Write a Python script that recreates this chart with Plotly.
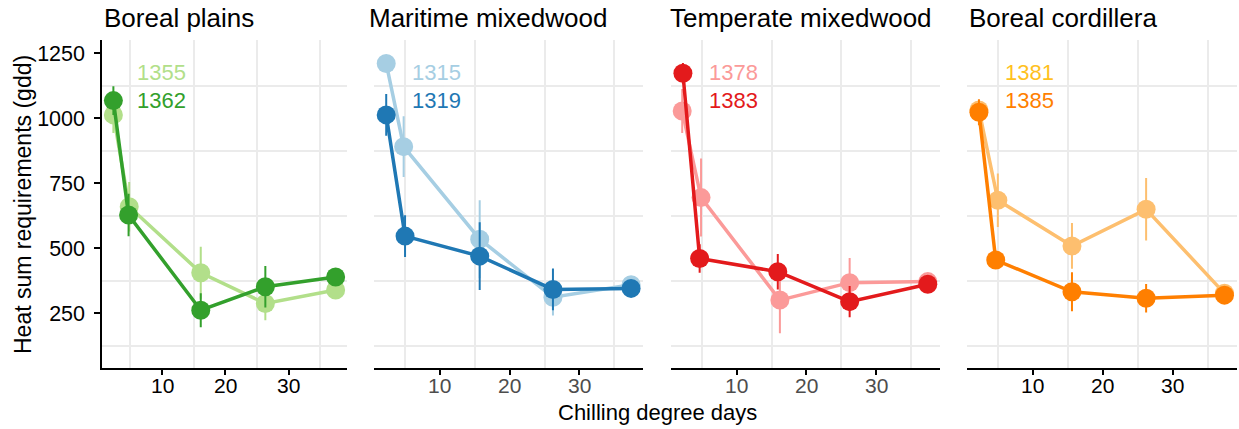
import plotly.graph_objects as go

W, H = 1239, 429

panels = ["Boreal plains", "Maritime mixedwood", "Temperate mixedwood", "Boreal cordillera"]

# light series (first label) and dark series (second label) per panel
labels_light = ["1355", "1315", "1378", "1381"]
labels_dark = ["1362", "1319", "1383", "1385"]

x_light = [
    [2.3, 4.8, 16.1, 26.3, 37.4],
    [2.3, 4.8, 15.7, 26.2, 37.4],
    [2.2, 4.9, 16.2, 26.2, 37.4],
    [2.3, 5.0, 15.6, 26.2, 37.4],
]
y_light = [
    [1013, 660, 406, 288, 340],
    [1211, 891, 535, 312, 360],
    [1028, 695, 301, 368, 372],
    [1032, 685, 509, 650, 327],
]
e_light = [
    [70, 95, 100, 65, 20],
    [15, 117, 150, 70, 20],
    [85, 150, 128, 95, 15],
    [30, 103, 88, 120, 15],
]
x_dark = [
    [2.3, 4.7, 16.1, 26.3, 37.4],
    [2.3, 5.0, 15.7, 26.2, 37.4],
    [2.3, 4.7, 15.9, 26.2, 37.4],
    [2.3, 4.7, 15.6, 26.2, 37.4],
]
y_dark = [
    [1068, 628, 262, 352, 390],
    [1013, 547, 470, 342, 346],
    [1173, 461, 410, 295, 362],
    [1023, 455, 333, 308, 320],
]
e_dark = [
    [55, 82, 65, 80, 20],
    [80, 80, 130, 80, 15],
    [40, 55, 68, 60, 15],
    [50, 30, 75, 55, 15],
]

col_light = ["#B2DF8A", "#A6CEE3", "#FB9A99", "#FDBF6F"]
col_dark = ["#33A02C", "#1F78B4", "#E31A1C", "#FF7F00"]
col_label_light = ["#B2DF8A", "#A6CEE3", "#FB9A99", "#FFC11E"]
col_label_dark = col_dark

x_ticks = [10, 20, 30]
x_tick_labels = ["10", "20", "30"]
y_ticks = [250, 500, 750, 1000, 1250]
x_grid = [5, 15, 25, 35]
y_grid = [125, 375, 625, 875, 1125]
x_range = [0.55, 39.15]
y_range = [41, 1301]

# panel pixel extents
px_left = [102.3, 374.0, 670.7, 966.7]
px_right = [346.7, 643.3, 940.0, 1236.7]
py_top, py_bot = 40, 367.7
title_left = [101.7, 366.7, 668.3, 966.7]
xtick_colors = ["#000000", "#4D4D4D", "#4D4D4D", "#000000"]

FONT = "Liberation Sans, Arial, sans-serif"

fig = go.Figure()
layout = dict(
    width=W, height=H, margin=dict(l=0, r=0, t=0, b=0, autoexpand=False),
    paper_bgcolor="white", plot_bgcolor="white", showlegend=False,
    font=dict(family=FONT, color="black"),
)
annotations = []

for i in range(4):
    xa = "x" if i == 0 else f"x{i+1}"
    ya = "y" if i == 0 else f"y{i+1}"
    for xs, ys, es, c in [(x_light[i], y_light[i], e_light[i], col_light[i]),
                          (x_dark[i], y_dark[i], e_dark[i], col_dark[i])]:
        # error bars as vertical segments
        ex, ey = [], []
        for xv, yv, ev in zip(xs, ys, es):
            ex += [xv, xv, None]
            ey += [yv - ev, yv + ev, None]
        fig.add_trace(go.Scatter(x=ex, y=ey, mode="lines", line=dict(color=c, width=2),
                                 xaxis=xa, yaxis=ya, hoverinfo="skip"))
        fig.add_trace(go.Scatter(x=xs, y=ys, mode="lines+markers",
                                 line=dict(color=c, width=3.5),
                                 marker=dict(color=c, size=19),
                                 xaxis=xa, yaxis=ya))
    # labels
    annotations.append(dict(x=5.7, y=1176, xref=xa, yref=ya, text=labels_light[i],
                            showarrow=False, xanchor="left", yanchor="middle",
                            font=dict(size=22, color=col_label_light[i], family=FONT)))
    annotations.append(dict(x=5.7, y=1067, xref=xa, yref=ya, text=labels_dark[i],
                            showarrow=False, xanchor="left", yanchor="middle",
                            font=dict(size=22, color=col_label_dark[i], family=FONT)))
    # x tick labels (placed just under the tick marks)
    for tv, tl in zip(x_ticks, x_tick_labels):
        annotations.append(dict(x=tv, y=1 - 385 / H, xref=xa, yref="paper", text=tl,
                                showarrow=False, xanchor="center", yanchor="middle",
                                font=dict(size=21, color=xtick_colors[i], family=FONT)))
    # panel title
    annotations.append(dict(x=title_left[i] / W, y=1 - 18 / H, xref="paper", yref="paper",
                            text=panels[i], showarrow=False, xanchor="left", yanchor="middle",
                            font=dict(size=26, color="black", family=FONT)))

    xkey = "xaxis" if i == 0 else f"xaxis{i+1}"
    ykey = "yaxis" if i == 0 else f"yaxis{i+1}"
    layout[xkey] = dict(
        domain=[px_left[i] / W, px_right[i] / W], range=x_range, anchor=ya,
        tickvals=x_ticks, ticks="outside", ticklen=5, tickwidth=1.5, tickcolor="black",
        showticklabels=False,
        showline=True, linecolor="black", linewidth=2, showgrid=False, zeroline=False,
        minor=dict(tickvals=x_grid, showgrid=True, gridcolor="#EBEBEB", gridwidth=2, ticks=""),
    )
    layout[ykey] = dict(
        domain=[1 - py_bot / H, 1 - py_top / H], range=y_range, anchor=xa,
        tickvals=y_ticks, showgrid=False, zeroline=False,
        showline=(i == 0), linecolor="black", linewidth=2,
        ticks="outside" if i == 0 else "", ticklen=6, tickwidth=1.5, tickcolor="black",
        ticklabelstandoff=5,
        showticklabels=(i == 0),
        tickfont=dict(size=21.5, color="black", family=FONT),
        minor=dict(tickvals=y_grid, showgrid=True, gridcolor="#EBEBEB", gridwidth=2, ticks=""),
    )

annotations.append(dict(x=657 / W, y=1 - 412 / H, xref="paper", yref="paper",
                        text="Chilling degree days", showarrow=False,
                        xanchor="center", yanchor="middle",
                        font=dict(size=22, color="black", family=FONT)))
annotations.append(dict(x=23 / W, y=1 - 205 / H, xref="paper", yref="paper",
                        text="Heat sum requirements (gdd)", showarrow=False, textangle=-90,
                        xanchor="center", yanchor="middle",
                        font=dict(size=23, color="black", family=FONT)))
layout["annotations"] = annotations

fig.update_layout(**layout)
fig.write_html("out.html", config={"displayModeBar": False},
               post_script="document.body.style.margin='0';document.body.style.overflow='hidden';")
